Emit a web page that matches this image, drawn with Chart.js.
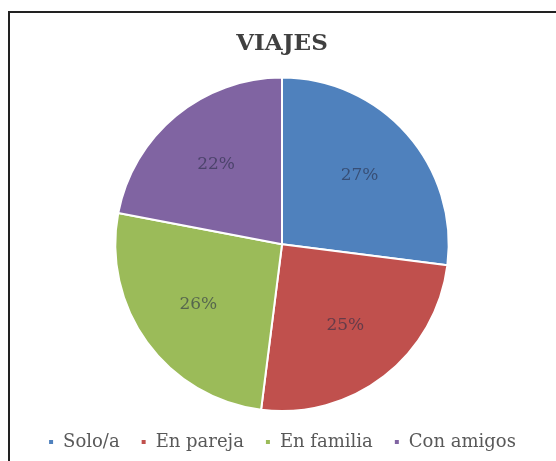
<!DOCTYPE html>
<html>
<head>
<meta charset="utf-8">
<script src="https://cdn.jsdelivr.net/npm/chart.js@4.4.1/dist/chart.umd.min.js"></script>
<style>
    html, body { margin: 0; padding: 0; background: #fff; overflow: hidden; }
    #frame {
        position: absolute; left: 8px; top: 11px;
        width: 600px; height: 500px;
        border-left: 2px solid #222; border-top: 2px solid #222;
    }
    #wrap { position: absolute; left: 0; top: 0; width: 556px; height: 461px; }
</style>
</head>
<body>
<div id="frame"></div>
<div id="wrap"><canvas id="viajesChart" width="556" height="461"></canvas></div>
<script>
var categories = ['Solo/a', 'En pareja', 'En familia', 'Con amigos'];
var shares = [27, 25, 26, 22];
var sliceLabels = ['27%', '25%', '26%', '22%'];
var colors = ['#4F81BD', '#C0504D', '#9BBB59', '#8064A2'];

// draws the percent text on each slice
var sliceText = {
    id: 'sliceText',
    afterDatasetsDraw: function (chart) {
        var ctx = chart.ctx;
        var meta = chart.getDatasetMeta(0);
        ctx.save();
        ctx.font = '17px "DejaVu Serif", serif';
        ctx.fillStyle = 'rgba(40, 45, 70, 0.6)';
        ctx.textAlign = 'center';
        ctx.textBaseline = 'middle';
        meta.data.forEach(function (arc, i) {
            var mid = (arc.startAngle + arc.endAngle) / 2;
            var r = arc.outerRadius * 0.62;
            ctx.fillText(sliceLabels[i], arc.x + Math.cos(mid) * r, arc.y + Math.sin(mid) * r);
        });
        ctx.restore();
    }
};

var ctx = document.getElementById('viajesChart').getContext('2d');
new Chart(ctx, {
    type: 'pie',
    data: {
        labels: categories,
        datasets: [{
            data: shares,
            backgroundColor: colors,
            borderColor: '#ffffff',
            borderWidth: 2
        }]
    },
    options: {
        responsive: false,
        animation: false,
        layout: { padding: { top: 28, bottom: 0, left: 8, right: 0 } },
        plugins: {
            title: {
                display: true,
                text: 'VIAJES',
                color: '#404040',
                font: { family: '"DejaVu Serif", serif', size: 23, weight: 'bold' },
                padding: { top: 2, bottom: 19 }
            },
            legend: {
                position: 'bottom',
                labels: {
                    color: '#595959',
                    font: { family: '"DejaVu Serif", serif', size: 18 },
                    boxWidth: 6,
                    boxHeight: 6,
                    padding: 21
                }
            },
            tooltip: { enabled: false }
        }
    },
    plugins: [sliceText]
});
</script>
</body>
</html>
